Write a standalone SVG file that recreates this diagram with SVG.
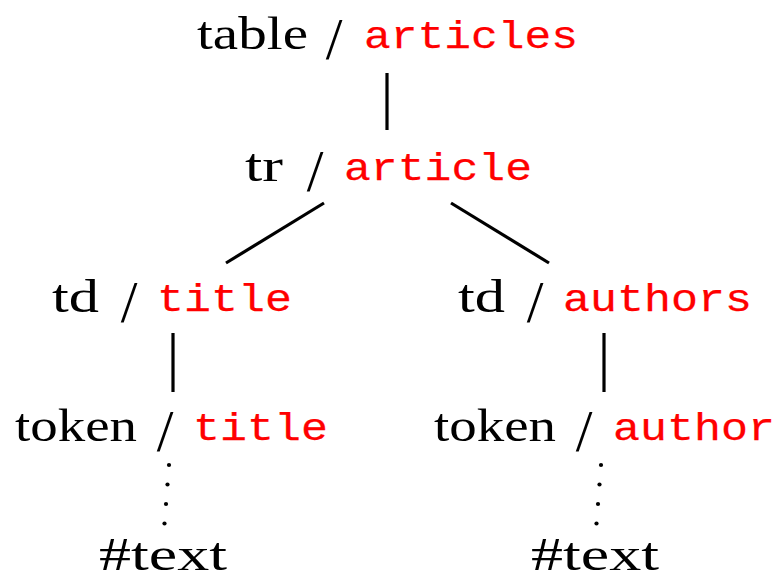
<svg xmlns="http://www.w3.org/2000/svg" width="777" height="579" viewBox="0 0 777 579">
  <style>
    .lbl { font-family: "Liberation Serif", "Times New Roman", serif; font-size: 47px; fill: #000; }
    .sl { font-family: "Liberation Serif", "Times New Roman", serif; font-size: 60px; fill: #000; text-anchor: middle; }
    .tag { font-family: "Liberation Mono", "Courier New", monospace; font-size: 39px; fill: #ff0000; stroke: #ff0000; stroke-width: 0.25; }
    .edge { stroke: #000; stroke-width: 3.2; stroke-linecap: butt; fill: none; }
    .dot { fill: #000; }
  </style>
  <rect width="777" height="579" fill="#fff"/>

  <g id="connectors">
    <line class="edge" x1="387" y1="73" x2="387" y2="130"/>
    <line class="edge" x1="324" y1="203" x2="226" y2="263"/>
    <line class="edge" x1="451" y1="203" x2="549" y2="263"/>
    <line class="edge" x1="173" y1="333" x2="173" y2="392"/>
    <line class="edge" x1="604" y1="333" x2="604" y2="392"/>
    <g id="dots-left">
      <circle class="dot" cx="169" cy="465" r="2.1"/>
      <circle class="dot" cx="167.5" cy="484.5" r="2.1"/>
      <circle class="dot" cx="166" cy="504" r="2.1"/>
      <circle class="dot" cx="164.5" cy="523.5" r="2.1"/>
    </g>
    <g id="dots-right">
      <circle class="dot" cx="601" cy="465" r="2.1"/>
      <circle class="dot" cx="599.5" cy="484.5" r="2.1"/>
      <circle class="dot" cx="598" cy="504" r="2.1"/>
      <circle class="dot" cx="596.5" cy="523.5" r="2.1"/>
    </g>
  </g>

  <g id="node-table">
    <text class="lbl" x="197" y="49" textLength="111" lengthAdjust="spacingAndGlyphs">table</text>
    <text class="sl" x="334" y="59">/</text>
    <text class="tag" x="364" y="48" textLength="214" lengthAdjust="spacingAndGlyphs">articles</text>
  </g>

  <g id="node-tr">
    <text class="lbl" x="245" y="181" textLength="38" lengthAdjust="spacingAndGlyphs">tr</text>
    <text class="sl" x="315" y="191">/</text>
    <text class="tag" x="344" y="180" textLength="188" lengthAdjust="spacingAndGlyphs">article</text>
  </g>

  <g id="node-td-title">
    <text class="lbl" x="52" y="312" textLength="47" lengthAdjust="spacingAndGlyphs">td</text>
    <text class="sl" x="129" y="322">/</text>
    <text class="tag" x="157" y="311" textLength="135" lengthAdjust="spacingAndGlyphs">title</text>
  </g>

  <g id="node-td-authors">
    <text class="lbl" x="458" y="312" textLength="47" lengthAdjust="spacingAndGlyphs">td</text>
    <text class="sl" x="535" y="322">/</text>
    <text class="tag" x="563" y="311" textLength="189" lengthAdjust="spacingAndGlyphs">authors</text>
  </g>

  <g id="node-token-title">
    <text class="lbl" x="15" y="441" textLength="122" lengthAdjust="spacingAndGlyphs">token</text>
    <text class="sl" x="165" y="451">/</text>
    <text class="tag" x="193" y="440" textLength="135" lengthAdjust="spacingAndGlyphs">title</text>
  </g>

  <g id="node-token-author">
    <text class="lbl" x="434" y="441" textLength="122" lengthAdjust="spacingAndGlyphs">token</text>
    <text class="sl" x="584" y="451">/</text>
    <text class="tag" x="613" y="440" textLength="162" lengthAdjust="spacingAndGlyphs">author</text>
  </g>

  <g id="node-text-left">
    <text class="lbl" x="99" y="570" textLength="128" lengthAdjust="spacingAndGlyphs">#text</text>
  </g>

  <g id="node-text-right">
    <text class="lbl" x="531" y="570" textLength="128" lengthAdjust="spacingAndGlyphs">#text</text>
  </g>
</svg>
